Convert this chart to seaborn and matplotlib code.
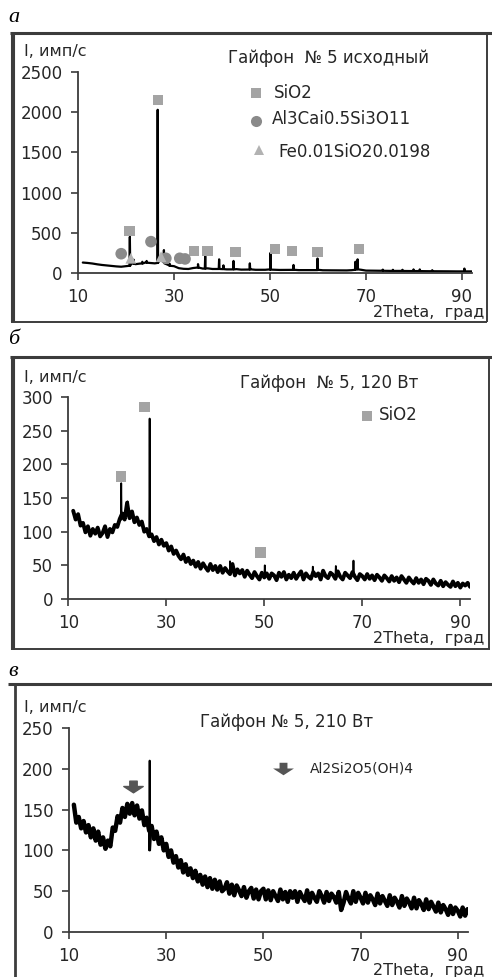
import numpy as np
import pandas as pd
import matplotlib
matplotlib.use("Agg")
import matplotlib.pyplot as plt
import seaborn as sns
from matplotlib.lines import Line2D
from matplotlib.path import Path

# ---- data ----
# scan grids (start, step) + intensities
a_start, a_step = 11.0, 1.0
a_counts = [130, 125, 118, 108, 100, 94, 88, 82, 78, 85,
            120, 110, 118, 130, 125, 120, 170, 120, 95, 85,
            60, 52, 50, 62, 70, 55, 58, 50, 50, 48,
            45, 45, 48, 42, 42, 45, 40, 40, 40, 45,
            40, 38, 38, 38, 40, 36, 36, 35, 35, 40,
            34, 33, 33, 33, 32, 32, 35, 60, 40, 30,
            29, 28, 28, 27, 27, 26, 26, 25, 25, 24,
            24, 23, 23, 22, 22, 21, 21, 20, 20, 20,
            20, 20]
a_peak_x = [20.8, 21.6, 23.4, 24.3, 26.6, 27.9, 29.1, 35.0, 36.5, 39.4, 40.3, 42.4, 45.8,
            50.1, 54.9, 59.9, 67.8, 68.25, 73.5, 75.6, 77.6, 79.9, 81.2, 83.8, 90.5]
a_peak_base = [90, 115, 118, 128, 125, 140, 90, 68, 55, 50, 48, 45, 43,
               42, 39, 36, 40, 45, 28, 26, 26, 24, 24, 22, 20]
a_peak_top = [450, 165, 140, 150, 2030, 285, 115, 110, 210, 170, 95, 150, 120,
              250, 100, 180, 140, 170, 42, 40, 40, 45, 45, 35, 55]

b_start, b_step = 11.0, 0.5
b_counts = [131, 118, 126, 109, 113, 99, 108, 94, 104, 97,
            106, 93, 98, 108, 92, 104, 99, 110, 107, 119,
            127, 118, 143, 120, 130, 114, 121, 110, 115, 100,
            104, 93, 96, 86, 92, 81, 88, 79, 83, 72,
            78, 67, 72, 64, 59, 66, 55, 61, 52, 57,
            48, 55, 45, 53, 47, 42, 52, 43, 49, 40,
            49, 39, 46, 41, 37, 52, 35, 44, 38, 43,
            33, 42, 36, 31, 40, 34, 29, 39, 32, 38,
            30, 38, 35, 28, 39, 33, 40, 29, 36, 31,
            39, 30, 36, 41, 29, 38, 33, 30, 40, 34,
            38, 29, 42, 34, 31, 39, 36, 30, 41, 33,
            29, 39, 35, 31, 40, 33, 28, 37, 34, 29,
            37, 30, 35, 28, 36, 32, 27, 35, 31, 26,
            34, 27, 32, 25, 34, 29, 24, 32, 27, 23,
            31, 24, 29, 22, 30, 27, 21, 29, 23, 20,
            27, 19, 25, 21, 18, 26, 19, 24, 17, 23,
            20, 24, 18]
b_peak_x = [20.8, 22.1, 26.6, 43.0, 50.1, 59.9, 64.6, 68.2]
b_peak_base = [118, 124, 97, 41, 34, 35, 35, 34]
b_peak_top = [172, 145, 268, 56, 50, 48, 49, 57]

c_start, c_step = 11.0, 0.5
c_counts = [156, 134, 141, 127, 136, 122, 131, 116, 127, 112,
            123, 107, 116, 102, 112, 105, 128, 124, 142, 134,
            152, 141, 157, 145, 158, 143, 155, 139, 149, 131,
            140, 124, 130, 114, 123, 108, 116, 100, 108, 92,
            100, 85, 93, 79, 88, 73, 83, 70, 78, 66,
            75, 62, 70, 58, 68, 55, 66, 53, 64, 52,
            62, 50, 53, 61, 47, 58, 45, 57, 51, 44,
            55, 42, 50, 54, 41, 52, 40, 50, 53, 40,
            51, 39, 50, 44, 38, 52, 40, 49, 37, 50,
            42, 50, 37, 49, 43, 38, 51, 36, 48, 42,
            37, 50, 44, 36, 49, 38, 47, 43, 36, 49,
            27, 36, 49, 41, 35, 50, 37, 48, 42, 35,
            48, 36, 45, 40, 33, 47, 35, 44, 38, 32,
            45, 33, 42, 37, 30, 44, 32, 41, 36, 29,
            42, 29, 39, 34, 27, 40, 28, 37, 31, 25,
            36, 24, 33, 28, 21, 32, 22, 30, 26, 19,
            30, 20, 28]
c_peak_x = [26.6]
c_peak_base = [100]
c_peak_top = [210]

# phase markers
a_sio2_x = [20.7, 26.7, 34.2, 37.0, 42.8, 51.1, 54.6, 59.9, 68.6]
a_sio2_y = [522, 2152, 277, 277, 257, 295, 277, 257, 295]
a_alca_x = [19.0, 25.2, 28.3, 31.2, 32.3]
a_alca_y = [240, 390, 183, 183, 175]
a_fesi_x = [21.0, 27.3]
a_fesi_y = [183, 203]
b_sio2_x = [20.75, 25.6, 49.2]
b_sio2_y = [182, 285, 69]
c_kaol_x = [23.2]
c_kaol_y = [179]

x_ticks = [10, 30, 50, 70, 90]

W, H = 492, 977
sns.set_theme(style="ticks")
plt.rcParams['font.family'] = ['DejaVu Sans']
TXT = '#262626'
SQ_C, CI_C, TR_C, AR_C = '#a4a4a4', '#8a8a8a', '#b2b2b2', '#555555'

ARROW = Path([(-0.38, 0.55), (0.38, 0.55), (0.38, 0.0), (1.0, 0.0), (0.0, -0.65),
              (-1.0, 0.0), (-0.38, 0.0), (-0.38, 0.55)],
             [Path.MOVETO] + [Path.LINETO] * 6 + [Path.CLOSEPOLY])

fig = plt.figure(figsize=(W / 100, H / 100), dpi=100)


def fx(x):
    return x / W


def fy(y):
    return 1 - y / H


def fline(x0, y0, x1, y1, lw=1.5, color='#3c3c3c'):
    fig.add_artist(Line2D([fx(x0), fx(x1)], [fy(y0), fy(y1)], transform=fig.transFigure,
                          color=color, lw=lw, solid_capstyle='butt'))


def ftext(x, y, s, size=12, ha='left', **kw):
    fig.text(fx(x), fy(y), s, fontsize=size, ha=ha, va='center', color=TXT, **kw)


def fmark(x, y, marker, color, ms):
    fig.add_artist(Line2D([fx(x)], [fy(y)], transform=fig.transFigure, marker=marker,
                          color=color, ms=ms, lw=0, markeredgewidth=0))


def grid(start, step, counts):
    counts = np.asarray(counts, float)
    return pd.DataFrame({'theta': start + step * np.arange(len(counts)), 'I': counts})


def scan(start, step, counts, px, pbase, ptop, hw=0.08):
    base = grid(start, step, counts)
    px = np.asarray(px, float)
    peaks = pd.DataFrame({
        'theta': np.concatenate([px - hw, px, px + hw]),
        'I': np.concatenate([pbase, ptop, pbase]),
    })
    return pd.concat([base, peaks]).sort_values('theta').reset_index(drop=True)


def panel(left, right, top, bottom, start, step, counts, px, pbase, ptop,
          ymax, ystep, lw, band_lw=None):
    ax = fig.add_axes([fx(left), fy(bottom), (right - left) / W, (bottom - top) / H])
    ax.set_facecolor('none')
    if band_lw:
        # noisy background drawn thick, like the scanned band
        sns.lineplot(data=grid(start, step, counts), x='theta', y='I', ax=ax,
                     color='black', lw=band_lw, estimator=None, sort=False)
    sns.lineplot(data=scan(start, step, counts, px, pbase, ptop), x='theta', y='I',
                 ax=ax, color='black', lw=lw, estimator=None, sort=False)
    ax.set_xlim(10, 92)
    ax.set_ylim(0, ymax)
    ax.set_xticks(x_ticks)
    ax.set_yticks(np.arange(0, ymax + 1, ystep))
    ax.set_xlabel('')
    ax.set_ylabel('')
    for s in ['top', 'right']:
        ax.spines[s].set_visible(False)
    for s in ['left', 'bottom']:
        ax.spines[s].set_color('#3c3c3c')
        ax.spines[s].set_linewidth(1.3)
    ax.tick_params(axis='both', direction='out', length=5, width=1.2, color='#3c3c3c',
                   labelsize=12, labelcolor=TXT)
    ax.tick_params(axis='y', pad=6)
    ax.tick_params(axis='x', pad=6)
    return ax


# ---- panel a ----
ax_a = panel(78, 78 + 82 * 4.8, 72, 273, a_start, a_step, a_counts,
             a_peak_x, a_peak_base, a_peak_top, 2500, 500, 1.6)
sns.scatterplot(x=a_sio2_x, y=a_sio2_y, ax=ax_a, marker='s', s=55, color=SQ_C,
                edgecolor='none', zorder=3)
sns.scatterplot(x=a_alca_x, y=a_alca_y, ax=ax_a, marker='o', s=70, color=CI_C,
                edgecolor='none', zorder=3)
sns.scatterplot(x=a_fesi_x, y=a_fesi_y, ax=ax_a, marker='^', s=60, color=TR_C,
                edgecolor='none', zorder=3)

# ---- panel b ----
ax_b = panel(68.3, 68.3 + 82 * 4.9, 397, 599, b_start, b_step, b_counts,
             b_peak_x, b_peak_base, b_peak_top, 300, 50, 1.3, band_lw=2.8)
sns.scatterplot(x=b_sio2_x, y=b_sio2_y, ax=ax_b, marker='s', s=60, color=SQ_C,
                edgecolor='none', zorder=3)

# ---- panel c ----
ax_c = panel(69, 69 + 82 * 4.86, 728, 932, c_start, c_step, c_counts,
             c_peak_x, c_peak_base, c_peak_top, 250, 50, 1.4, band_lw=3.2)
ax_c.plot(c_kaol_x, c_kaol_y, lw=0, marker=ARROW, ms=14, color=AR_C, zorder=3)

# ---- frames ----
fline(10, 33, 492, 33, lw=2.2)
fline(11.7, 32, 11.7, 322)
fline(14.3, 32, 14.3, 322)
fline(11, 322, 487, 322, lw=1.4)
fline(486.5, 32, 486.5, 322, lw=1.4)

fline(10, 357, 492, 357, lw=2.2)
fline(11.7, 356, 11.7, 650)
fline(14.3, 356, 14.3, 650)
fline(11, 649, 490, 649, lw=1.4)
fline(489, 356, 489, 649, lw=1.4)

fline(8, 684, 492, 684, lw=2.2)
fline(15, 684, 15, 977, lw=2.0)

# ---- panel letters ----
for y, s in [(18, 'а'), (339, 'б'), (671, 'в')]:
    fig.text(fx(8), fy(y), s, fontsize=16, ha='left', va='center', color='black',
             family='Liberation Serif', style='italic')

# ---- labels, titles and legends ----
for y in (52, 377, 707):
    ftext(24, y, 'I, имп/с', size=11.5)
for y in (312, 639, 971):
    ftext(484, y, '2Theta,  град', size=11.5, ha='right')

ftext(228, 58, 'Гайфон  № 5 исходный', size=12)
fmark(256, 93, 's', SQ_C, 7)
ftext(274, 93, 'SiO2', size=12)
fmark(256, 121, 'o', CI_C, 8)
ftext(272, 119, 'Al3Cai0.5Si3O11', size=12)
fmark(259, 150, '^', TR_C, 7.5)
ftext(278, 152, 'Fe0.01SiO20.0198', size=12)

ftext(240, 383, 'Гайфон  № 5, 120 Вт', size=12)
fmark(367, 416, 's', SQ_C, 7.5)
ftext(379, 415, 'SiO2', size=12)

ftext(200, 722, 'Гайфон № 5, 210 Вт', size=12)
fmark(283, 768, ARROW, AR_C, 15)
ftext(310, 768, 'Al2Si2O5(OH)4', size=10)

fig.savefig('out.png', dpi=100)
